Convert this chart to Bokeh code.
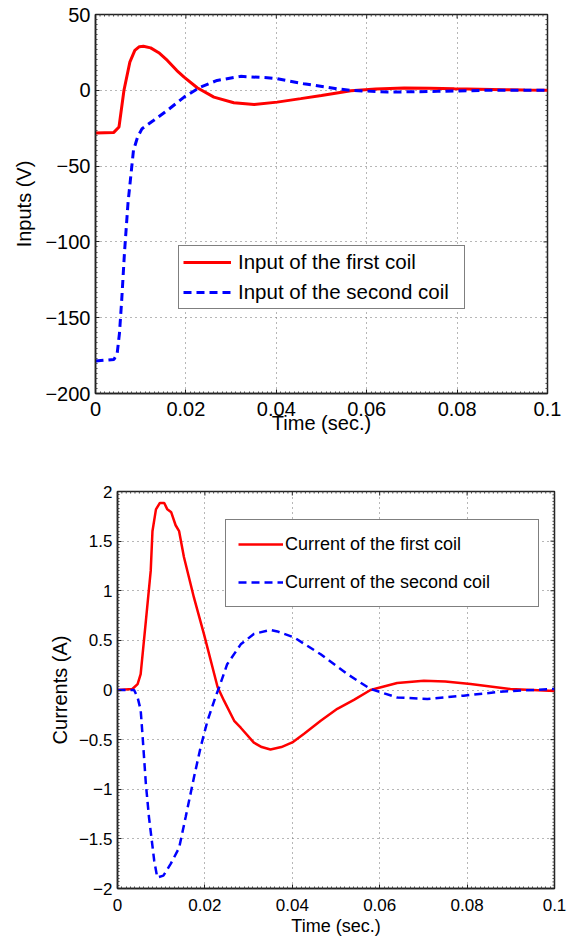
from bokeh.plotting import figure
from bokeh.layouts import column, row
from bokeh.models import FixedTicker, Legend, LegendItem, Spacer
from bokeh.embed import file_html
from bokeh.resources import INLINE
import numpy as np

# ---------------- data ----------------
t_in1 = [0, 0.004, 0.0052, 0.0063, 0.0076, 0.0087, 0.0097, 0.0106, 0.0122, 0.014,
         0.0159, 0.018, 0.0196, 0.0225, 0.0262, 0.0306, 0.0351, 0.0402, 0.0454, 0.05,
         0.0565, 0.062, 0.0683, 0.074, 0.0794, 0.085, 0.0904, 0.095, 0.1]
v_in1 = [-28.2, -27.9, -24.2, 0, 18.6, 26.3, 28.8, 29.1, 28, 24.8,
         19.7, 13, 8.7, 1.7, -4.5, -8.2, -9.3, -7.8, -5.5, -3.4,
         -0.3, 0.8, 1.5, 1.4, 1, 0.7, 0.4, 0.2, 0]

t_in2 = [0, 0.0041, 0.0048, 0.0053, 0.0058, 0.0064, 0.0072, 0.0084, 0.0093, 0.0103,
         0.0129, 0.0159, 0.0196, 0.0232, 0.0269, 0.0321, 0.038, 0.0402, 0.0461, 0.0535,
         0.0565, 0.0646, 0.0757, 0.0867, 0.1]
v_in2 = [-178.6, -177.5, -173.5, -160.3, -138.4, -107.6, -74, -39.6, -31, -25.3,
         -19.8, -13.2, -4.5, 2.1, 6.5, 9.2, 8.3, 7.6, 4.3, 1,
         0, -1.2, -0.7, 0, 0]

t_cur1 = [0, 0.0034, 0.0046, 0.0053, 0.0065, 0.0076, 0.008, 0.0088, 0.0097, 0.0107,
          0.0114, 0.0123, 0.0133, 0.0141, 0.0152, 0.0175, 0.0198, 0.0229, 0.0244, 0.0267,
          0.0282, 0.0312, 0.033, 0.035, 0.0375, 0.04, 0.0427, 0.0465, 0.0503, 0.0541,
          0.0579, 0.064, 0.0701, 0.075, 0.0808, 0.0899, 0.1]
v_cur1 = [0, 0.01, 0.06, 0.16, 0.7, 1.2, 1.6, 1.82, 1.885, 1.885,
          1.82, 1.79, 1.66, 1.6, 1.34, 0.93, 0.56, 0.03, -0.11, -0.31,
          -0.38, -0.53, -0.575, -0.6, -0.575, -0.528, -0.44, -0.31, -0.19, -0.1,
          0, 0.07, 0.094, 0.085, 0.06, 0.01, -0.01]

t_cur2 = [0, 0.0038, 0.0046, 0.0053, 0.0057, 0.0065, 0.0072, 0.0084, 0.0091, 0.0105,
          0.0122, 0.0141, 0.0156, 0.0175, 0.019, 0.0206, 0.0225, 0.0232, 0.0251, 0.0282,
          0.0312, 0.035, 0.0366, 0.0404, 0.0465, 0.0526, 0.0579, 0.064, 0.0709, 0.0792,
          0.0884, 0.1]
v_cur2 = [0, 0, -0.075, -0.2, -0.44, -0.95, -1.28, -1.72, -1.89, -1.87,
          -1.75, -1.59, -1.28, -0.88, -0.58, -0.31, -0.06, 0.02, 0.26, 0.46,
          0.565, 0.605, 0.59, 0.53, 0.36, 0.16, 0.01, -0.075, -0.09, -0.057,
          -0.014, 0.01]

x_ticks = [0, 0.02, 0.04, 0.06, 0.08, 0.1]
x_tick_labels = ["0", "0.02", "0.04", "0.06", "0.08", "0.1"]
y1_ticks = [-200, -150, -100, -50, 0, 50]
y1_tick_labels = ["\u2212200", "\u2212150", "\u2212100", "\u221250", "0", "50"]
y2_ticks = [-2, -1.5, -1, -0.5, 0, 0.5, 1, 1.5, 2]
y2_tick_labels = ["\u22122", "\u22121.5", "\u22121", "\u22120.5", "0", "0.5", "1", "1.5", "2"]

names_in = ["Input of the first coil", "Input of the second coil"]
names_cur = ["Current of the first coil", "Current of the second coil"]

FONT = "Liberation Sans"
RED = "#ff0000"
BLUE = "#0000ff"
AX = "#222222"


def minors(ticks, n):
    out = []
    for a, b in zip(ticks[:-1], ticks[1:]):
        out.extend(np.linspace(a, b, n + 1)[1:-1].tolist())
    return out


def style(p, xt, xtl, yt, ytl, fs, xfs, yfs, xlab, ylab, nmx, nmy,
          ylab_standoff, xlab_standoff, xstand):
    xmin = minors(xt, nmx)
    ymin = minors(yt, nmy)
    xtick = FixedTicker(ticks=xt, minor_ticks=xmin)
    ytick = FixedTicker(ticks=yt, minor_ticks=ymin)
    xa = p.below[0]
    ya = p.left[0]
    for ax in [xa, ya]:
        ax.axis_line_color = AX
        ax.axis_line_width = 1.5
        ax.major_tick_in = 4
        ax.major_tick_out = 0
        ax.minor_tick_in = 2
        ax.minor_tick_out = 0
        ax.major_tick_line_color = AX
        ax.minor_tick_line_color = "#444444"
        ax.major_label_text_font = FONT
        ax.major_label_text_color = "black"
        ax.major_label_text_font_size = fs
        ax.axis_label_text_font = FONT
        ax.axis_label_text_font_style = "normal"
        ax.axis_label_text_color = "black"
    xa.axis_label_text_font_size = xfs
    ya.axis_label_text_font_size = yfs
    xa.ticker = xtick
    ya.ticker = ytick
    xa.major_label_overrides = {v: s for v, s in zip(xt, xtl)}
    ya.major_label_overrides = {v: s for v, s in zip(yt, ytl)}
    xa.axis_label = xlab
    ya.axis_label = ylab
    xa.major_label_standoff = xstand
    ya.major_label_standoff = 5
    ya.axis_label_standoff = ylab_standoff
    xa.axis_label_standoff = xlab_standoff
    p.xgrid.ticker = xtick
    p.ygrid.ticker = ytick
    for g in [p.xgrid, p.ygrid]:
        g.grid_line_color = "#6e6e6e"
        g.grid_line_dash = "1 4"
        g.grid_line_width = 1
    p.outline_line_color = AX
    p.outline_line_width = 1.5
    p.background_fill_color = "white"
    p.border_fill_color = "white"
    # tick marks on the top and right edges (MATLAB box style)
    ytop = p.y_range.end
    xright = p.x_range.end
    p.scatter(xt, [ytop] * len(xt), marker="dash", size=8, angle=np.pi / 2,
              line_color=AX, line_width=1)
    p.scatter(xmin, [ytop] * len(xmin), marker="dash", size=4, angle=np.pi / 2,
              line_color="#444444", line_width=1)
    p.scatter([xright] * len(yt), yt, marker="dash", size=8,
              line_color=AX, line_width=1)
    p.scatter([xright] * len(ymin), ymin, marker="dash", size=4,
              line_color="#444444", line_width=1)


# ---------------- top figure ----------------
p1 = figure(width=563, height=458, output_backend="svg", toolbar_location=None,
            x_range=(0, 0.1), y_range=(-200, 50),
            min_border_left=95, min_border_right=16, min_border_top=14, min_border_bottom=65)
style(p1, x_ticks, x_tick_labels, y1_ticks, y1_tick_labels, "20px", "20px", "20px",
      "Time (sec.)", "Inputs (V)", 20, 15, 7, -7, 8)
r1 = p1.line(t_in1, v_in1, line_color=RED, line_width=3)
r2 = p1.line(t_in2, v_in2, line_color=BLUE, line_width=3, line_dash="8 5")
leg1 = Legend(items=[LegendItem(label=names_in[0], renderers=[r1]),
                     LegendItem(label=names_in[1], renderers=[r2])],
              location=(83, 84), padding=4, spacing=6, label_height=22, glyph_height=22,
              glyph_width=48, label_standoff=7, label_width=222,
              label_text_font=FONT, label_text_font_size="20.5px", label_text_color="black",
              border_line_color="black", border_line_width=1, background_fill_alpha=1,
              margin=0)
p1.add_layout(leg1, "center")

# ---------------- bottom figure ----------------
p2 = figure(width=549, height=480, output_backend="svg", toolbar_location=None,
            x_range=(0, 0.1), y_range=(-2, 2),
            min_border_left=95, min_border_right=17, min_border_top=33, min_border_bottom=50)
style(p2, x_ticks, x_tick_labels, y2_ticks, y2_tick_labels, "17px", "18px", "20px",
      "Time (sec.)", "Currents (A)", 20, 15, 5, 2, 10)
r3 = p2.line(t_cur1, v_cur1, line_color=RED, line_width=2.5)
r4 = p2.line(t_cur2, v_cur2, line_color=BLUE, line_width=2.5, line_dash="8 5")
leg2 = Legend(items=[LegendItem(label=names_cur[0], renderers=[r3]),
                     LegendItem(label=names_cur[1], renderers=[r4])],
              location=(108, 281), padding=12, spacing=14, label_height=24, glyph_height=24,
              glyph_width=45, label_standoff=2, label_width=241,
              label_text_font=FONT, label_text_font_size="18px", label_text_color="black",
              border_line_color="black", border_line_width=1, background_fill_alpha=1,
              margin=0)
p2.add_layout(leg2, "center")

layout = column(p1, row(Spacer(width=22, height=480), p2), spacing=0)
open("out.html", "w").write(file_html(layout, INLINE))
